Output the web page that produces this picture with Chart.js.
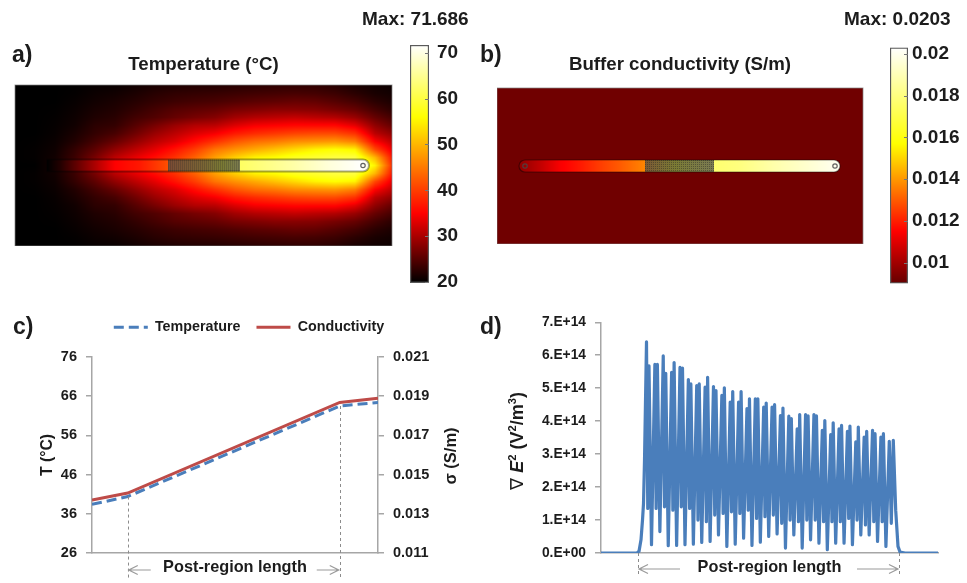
<!DOCTYPE html>
<html>
<head>
<meta charset="utf-8">
<title>Temperature, conductivity and field gradient</title>
<script src="https://cdn.jsdelivr.net/npm/chart.js@4"></script>
<style>
  html,body{margin:0;padding:0;background:#fff;width:967px;height:583px;overflow:hidden}
  body{filter:blur(.35px)}
  canvas{position:absolute;display:block}
  .t{position:absolute;font-family:"Liberation Sans",Arial,sans-serif;font-weight:bold;color:#1c1c1c;white-space:nowrap;transform:translateY(-50%);line-height:1}
  .r{transform:translate(-50%,-50%) rotate(-90deg)}
  .r sup{font-size:.62em;line-height:0}
  .r i{font-style:italic}
  .nab{font-family:"DejaVu Sans",sans-serif;font-weight:normal}
</style>
</head>
<body>
<canvas id="heatA" width="410" height="198" style="left:0;top:48px"></canvas>
<canvas id="barA" width="75" height="288" style="left:405px;top:20px"></canvas>
<canvas id="heatB" width="408" height="196" style="left:497px;top:48px"></canvas>
<canvas id="barB" width="77" height="287" style="left:885px;top:22px"></canvas>
<canvas id="lineC" width="498" height="279" style="left:0;top:304px"></canvas>
<canvas id="lineD" width="477" height="278" style="left:490px;top:305px"></canvas>

<div class="t" style="left:362px;top:18px;font-size:19px">Max: 71.686</div>
<div class="t" style="left:844px;top:18px;font-size:19px">Max: 0.0203</div>
<div class="t" style="left:12px;top:54px;font-size:23px">a)</div>
<div class="t" style="left:480px;top:54px;font-size:23px">b)</div>
<div class="t" style="left:13px;top:326px;font-size:23px">c)</div>
<div class="t" style="left:480px;top:326px;font-size:23px">d)</div>
<div class="t r" style="left:450px;top:456px;font-size:16.5px">σ (S/m)</div>
<div class="t r" style="left:517px;top:441px;font-size:18px"><span class="nab">∇</span> <i>E</i><sup>2</sup> (V<sup>2</sup>/m<sup>3</sup>)</div>

<script>
/* ---------- panel a: temperature field ---------- */
const tempFieldX = [0,20,40,60,80,100,120,140,160,180,200,220,240,260,280,300,320,340,360,380];
const tempFieldD = [0,8,16,24,32,40,48,56,64,72,80];
const tempRow0  = [20,20,21.2,24,28,32,35,38,42,48,53,56,59,60,61,62,62,63,55,36];
const tempRow1  = [20,20.2,21,23.5,27,31,33.5,36,39,43,48,52,55,56,58,59,60,60,50,34.5];
const tempRow2  = [20,20.2,20.8,23,25.5,28.5,31,33.5,36.5,40,44.5,47,49,51,53,55,56,55,41,32.5];
const tempRow3  = [20,20.1,20.6,22,24,26,28.5,31,33,36,39,42,44,45,46.5,47,47.5,45.5,35,30.5];
const tempRow4  = [20,20,20.4,21.5,23,24.2,26.5,29,31,33,34.5,37,38.5,39.5,40.5,41,41,39,31,28];
const tempRow5  = [20,20,20.3,21,22.5,23,25,27,29,30.5,31,33,34.5,35,35.5,35.5,35.5,33.5,28.5,25.5];
const tempRow6  = [20,20,20.2,20.8,21.8,22.4,23.8,24.8,26,27,27.8,29.5,30.5,31,31.5,31,30.5,29,26,23.8];
const tempRow7  = [20,20,20.1,20.6,21.4,21.9,22.9,24,25,25.5,26,27,27.5,28,28,27.8,27,26,24,22.3];
const tempRow8  = [20,20,20,20.4,21,21.5,22.2,23,23.6,24,24.3,24.8,25.3,25.6,26,25.8,25,24,22.5,21.5];
const tempRow9  = [20,20,20,20.2,20.7,21,21.6,22.3,22.8,23,23.2,23.5,23.8,24,24.2,24,23.5,22.5,21.5,21];
const tempRow10 = [20,20,20,20.1,20.4,20.5,21,21.5,21.8,22,22,22.3,22.5,22.7,22.8,22.8,22.3,21.5,21,20.7];
const tempRows = [tempRow0,tempRow1,tempRow2,tempRow3,tempRow4,tempRow5,tempRow6,tempRow7,tempRow8,tempRow9,tempRow10];
const tempChannelX = [32,45,67,100,125,150,190,225,275,315,345,354];
const tempChannelV = [20,22,27,35,37,41,50,62,66,69.5,71.5,70];
const tempStopValues = [20,35,56,71.686];
const tempStopColors = [[0,0,0],[255,0,0],[255,255,0],[255,255,255]];
const tempTicks = [20,30,40,50,60,70];

/* ---------- panel b: buffer conductivity ---------- */
const sigmaFieldX = [0,366];
const sigmaFieldD = [0,78];
const sigmaRows = [[0.0092,0.0092],[0.0092,0.0092]];
const sigmaChannelX = [22,43,63,83,103,123,148,183,217,243,273,303,338];
const sigmaChannelV = [0.0097,0.0105,0.0114,0.0119,0.0125,0.013,0.0137,0.016,0.0177,0.018,0.0187,0.0193,0.02];
const sigmaStopValues = [0.009,0.0115,0.0157,0.0203];
const sigmaStopColors = [[100,0,0],[255,0,0],[255,255,0],[255,255,255]];
const sigmaTicks = [0.01,0.012,0.014,0.016,0.018,0.02];

/* ---------- panel c ---------- */
const cPosition = [0,1,6.93,8];
const cTemperature = [38.4,40.4,63.5,64.4];
const cConductivity = [0.0137,0.01406,0.01868,0.0189];
const cPostStart = 1, cPostEnd = 6.93;

/* ---------- panel d (values in 1E+14 V²/m³) ---------- */
const dTickLabels = ['0.E+00','1.E+14','2.E+14','3.E+14','4.E+14','5.E+14','6.E+14','7.E+14'];
const dRiseX = [0,36,38,40,41.5,42.5,43.5];
const dRiseY = [0,0,0.05,0.4,1,1.5,2.8];
const dTopA = [6.41,5.72,5.98,5.48,5.63,5.26,5.08,5.03,5.05,4.78,4.58,4.58,4.38,4.68,4.43,4.43,4.17,4.15,3.77,4.2,4.2,3.72,3.59,3.77,3.69,3.37,3.52,3.72,3.52,3.39];
const dMid  = [1.35,1.35,1.4,1.3,1.4,1.35,1.0,0.95,1.15,1.2,1.25,1.2,1.3,1.05,1.1,1.15,0.9,1.0,0.95,1.0,1.0,0.95,0.95,0.95,1.05,1.0,0.85,0.95,0.95,0.9];
const dTopB = [5.68,5.72,5.45,5.78,5.61,5.13,5.13,5.33,4.93,5.01,4.9,4.9,4.68,4.68,4.55,4.5,4.4,4.08,4.2,4.16,4.16,4.02,3.95,3.87,3.85,3.82,3.69,3.62,3.62,3.42];
const dDip  = [0.25,0.65,0.22,0.23,0.25,0.27,0.32,0.35,0.55,0.2,0.27,0.45,0.23,0.33,0.5,0.58,0.15,0.55,0.15,0.4,0.3,0.1,0.3,0.3,0.25,0.55,0.55,0.35,0.2,0.15];
const dFallX = [294.7,297,299,304,337];
const dFallY = [1.3,0.2,0.03,0,0];
const dPostStart = 37, dPostEnd = 298;

/* ---------- helpers ---------- */
const FONT = '"Liberation Sans", Arial, sans-serif';
const GREY = '#a6a6a6';
const BLUE = '#4a7ebb';
const RED = '#be4b48';

function colorOf(v, values, colors){
  if (v <= values[0]) return colors[0];
  for (let i = 1; i < values.length; i++){
    if (v <= values[i]){
      const f = (v - values[i-1]) / (values[i] - values[i-1]);
      return colors[i].map((c,k) => colors[i-1][k] + (c - colors[i-1][k]) * f);
    }
  }
  return colors[colors.length-1];
}
function lookup(arr, v){
  let i = 0;
  while (i < arr.length - 2 && v > arr[i+1]) i++;
  const f = Math.min(1, Math.max(0, (v - arr[i]) / (arr[i+1] - arr[i])));
  return [i, f];
}
function interp(xs, vs, x){
  const [i,f] = lookup(xs, x);
  return vs[i] + (vs[i+1] - vs[i]) * f;
}

/* Paints the field cell values through the chart's own x / y scales. */
function heatPlugin(cfg){
  return {
    id: 'heat',
    beforeDatasetsDraw(chart){
      const {ctx, chartArea:a, scales:{x,y}} = chart;
      const w = Math.round(a.right - a.left), h = Math.round(a.bottom - a.top);
      const img = ctx.createImageData(w, h);
      for (let py = 0; py < h; py++){
        const d = Math.abs(y.getValueForPixel(a.top + py + 0.5));
        const [j,fj] = lookup(cfg.ds, d);
        for (let px = 0; px < w; px++){
          const [i,fi] = lookup(cfg.xs, x.getValueForPixel(a.left + px + 0.5));
          const r0 = cfg.rows[j], r1 = cfg.rows[j+1];
          const v0 = r0[i] + (r0[i+1]-r0[i])*fi, v1 = r1[i] + (r1[i+1]-r1[i])*fi;
          const c = colorOf(v0 + (v1-v0)*fj, cfg.stopValues, cfg.stopColors);
          const o = (py*w + px)*4;
          img.data[o]=c[0]; img.data[o+1]=c[1]; img.data[o+2]=c[2]; img.data[o+3]=255;
        }
      }
      ctx.putImageData(img, Math.round(a.left), Math.round(a.top));

      ctx.save();
      ctx.strokeStyle = 'rgba(130,130,130,.7)'; ctx.lineWidth = 1;
      ctx.strokeRect(a.left, a.top, w, h);

      const x0 = x.getPixelForValue(cfg.channel[0]), x1 = x.getPixelForValue(cfg.channel[1]);
      const yT = y.getPixelForValue(cfg.half), yB = y.getPixelForValue(-cfg.half);
      const path = () => { ctx.beginPath(); ctx.roundRect(x0, yT, x1-x0, yB-yT, cfg.radii); };
      ctx.save();
      path(); ctx.clip();
      for (let p = Math.floor(x0); p < x1; p++){
        const c = colorOf(interp(cfg.channelX, cfg.channelV, x.getValueForPixel(p+0.5)), cfg.stopValues, cfg.stopColors);
        ctx.fillStyle = `rgb(${c[0]|0},${c[1]|0},${c[2]|0})`;
        ctx.fillRect(p, yT, 1.5, yB-yT);
      }
      const m0 = x.getPixelForValue(cfg.mesh[0]), m1 = x.getPixelForValue(cfg.mesh[1]);
      ctx.fillStyle = 'rgba(72,72,72,.72)';
      ctx.fillRect(m0, yT, m1-m0, yB-yT);
      ctx.fillStyle = 'rgba(40,40,40,.45)';
      for (let p = m0; p < m1; p += 2) for (let q = yT; q < yB; q += 2) ctx.fillRect(p, q, 1, 1);
      ctx.restore();

      ctx.save();
      ctx.globalCompositeOperation = 'multiply';
      path();
      ctx.strokeStyle = cfg.outline; ctx.lineWidth = cfg.outlineWidth; ctx.stroke();
      ctx.restore();
      cfg.holes.forEach(h => {
        ctx.beginPath();
        ctx.arc(x.getPixelForValue(h), y.getPixelForValue(0), 2.2, 0, Math.PI*2);
        ctx.strokeStyle = 'rgba(70,70,70,.85)'; ctx.lineWidth = 1.2; ctx.stroke();
      });
      ctx.restore();
    }
  };
}

function heatChart(id, title, cfg, pad, titleBottom, xMax, yMax){
  return new Chart(document.getElementById(id), {
    type: 'scatter',
    data: { datasets: [{ data: cfg.xs.map(v => ({x:v, y:0})), pointRadius: 0 }] },
    options: {
      responsive: false, animation: false, events: [],
      layout: { padding: pad },
      plugins: {
        legend: { display: false }, tooltip: { enabled: false },
        title: { display: true, text: title, color: '#1c1c1c',
                 font: { family: FONT, size: 18.7, weight: 'bold', lineHeight: 23/18.7 },
                 padding: { top: 5, bottom: titleBottom } }
      },
      scales: {
        x: { type: 'linear', display: false, min: 0, max: xMax },
        y: { type: 'linear', display: false, min: -yMax, max: yMax }
      }
    },
    plugins: [heatPlugin(cfg)]
  });
}

function colorBar(id, ticks, lo, hi, stopValues, stopColors, fmt, leftPad, labelPad, axisWidth, padTop, padBottom){
  const ticksPlugin = {
    id: 'barTicks',
    afterDatasetsDraw(chart){
      const {ctx, chartArea:a, scales:{y}} = chart;
      ctx.save(); ctx.strokeStyle = '#777'; ctx.lineWidth = 1;
      ticks.forEach(t => {
        const p = Math.round(y.getPixelForValue(t)) + 0.5;
        ctx.beginPath(); ctx.moveTo(a.right - 4, p); ctx.lineTo(a.right, p); ctx.stroke();
      });
      ctx.restore();
    }
  };
  return new Chart(document.getElementById(id), {
    type: 'bar',
    data: { labels: [''], datasets: [{
      data: [[lo, hi]],
      barPercentage: 1, categoryPercentage: 1,
      borderColor: '#5a5a5a', borderWidth: 1.5, borderSkipped: false,
      backgroundColor(c){
        const {chart} = c, s = chart.scales.y;
        if (!chart.chartArea || !s) return '#888';
        const g = chart.ctx.createLinearGradient(0, s.getPixelForValue(lo), 0, s.getPixelForValue(hi));
        stopValues.forEach((v,i) => {
          const k = Math.min(1, Math.max(0, (v - lo) / (hi - lo)));
          g.addColorStop(k, `rgb(${stopColors[i].join(',')})`);
        });
        return g;
      }
    }]},
    options: {
      responsive: false, animation: false, events: [],
      layout: { padding: { left: leftPad, top: padTop, bottom: padBottom, right: 0 } },
      plugins: { legend: { display: false }, tooltip: { enabled: false } },
      scales: {
        x: { display: false },
        y: {
          position: 'right', min: lo, max: hi,
          afterFit(s){ s.width = axisWidth; },
          afterBuildTicks(s){ s.ticks = ticks.map(v => ({ value: v })); },
          border: { display: false },
          grid: { display: false, drawTicks: false },
          ticks: { padding: labelPad, color: '#1c1c1c', autoSkip: false,
                   font: { family: FONT, size: 19, weight: 'bold' }, callback: fmt }
        }
      }
    },
    plugins: [ticksPlugin]
  });
}

/* Dashed guides and the grey double arrow of the "Post-region length" label. */
function postRegionPlugin(o){
  return {
    id: 'postRegion',
    afterDraw(chart){
      const {ctx, chartArea:a, scales:{x}} = chart;
      const x0 = x.getPixelForValue(o.start), x1 = x.getPixelForValue(o.end);
      ctx.save();
      ctx.strokeStyle = '#8c8c8c'; ctx.lineWidth = 1; ctx.setLineDash([3,3]);
      [[x0,o.top0],[x1,o.top1]].forEach(([px,val]) => {
        const top = val == null ? a.bottom : chart.scales.y.getPixelForValue(val);
        ctx.beginPath(); ctx.moveTo(Math.round(px)+.5, top); ctx.lineTo(Math.round(px)+.5, a.bottom + o.down); ctx.stroke();
      });
      ctx.setLineDash([]); ctx.strokeStyle = '#9a9a9a'; ctx.lineWidth = 1.2;
      const ay = a.bottom + o.arrowY;
      const arrow = (tip, tail, dir) => {
        ctx.beginPath(); ctx.moveTo(tail, ay); ctx.lineTo(tip, ay);
        ctx.moveTo(tip + dir*9, ay - 4.5); ctx.lineTo(tip, ay); ctx.lineTo(tip + dir*9, ay + 4.5);
        ctx.stroke();
      };
      arrow(x0 + 1, x0 + o.len, 1);
      arrow(x1 - 1, x1 - o.len, -1);
      ctx.restore();
    }
  };
}

/* ---------- panels a, b ---------- */
heatChart('heatA', 'Temperature (°C)', {
  xs: tempFieldX, ds: tempFieldD, rows: tempRows,
  stopValues: tempStopValues, stopColors: tempStopColors,
  channelX: tempChannelX, channelV: tempChannelV,
  channel: [32,354], half: 6, mesh: [153,225], radii: [0,6,6,0], holes: [348],
  outline: '#a4a4a4', outlineWidth: 2
}, { left: 15, right: 18 }, 9, 377, 80.5);

heatChart('heatB', 'Buffer conductivity (S/m)', {
  xs: sigmaFieldX, ds: sigmaFieldD, rows: sigmaRows,
  stopValues: sigmaStopValues, stopColors: sigmaStopColors,
  channelX: sigmaChannelX, channelV: sigmaChannelV,
  channel: [22,343], half: 6, mesh: [148,217], radii: 6, holes: [28,338],
  outline: '#8c8c8c', outlineWidth: 1.2
}, { left: 0, right: 42 }, 12, 366, 78);

colorBar('barA', tempTicks, 19.8, 71.686, tempStopValues, tempStopColors, v => String(v), 5, 8, 51, 25, 25);
colorBar('barB', sigmaTicks, 0.009, 0.0203, sigmaStopValues, sigmaStopColors, v => String(v), 5, 4, 54, 25.5, 25.5);

/* ---------- panel c ---------- */
const legendHeightPlugin = {
  id: 'legendHeight',
  beforeLayout(chart){
    const lg = chart.legend;
    if (lg && !lg._patched){
      const fit = lg.fit;
      lg.fit = function(){ fit.call(this); this.height = 53; };
      lg._patched = true;
    }
  }
};
const cAxisBase = {
  border: { color: GREY, width: 1.5 },
  grid: { drawOnChartArea: false, color: GREY, lineWidth: 1.5, tickLength: 6 }
};
new Chart(document.getElementById('lineC'), {
  type: 'line',
  data: { datasets: [
    { label: 'Temperature', yAxisID: 'y', borderColor: BLUE, backgroundColor: BLUE, borderWidth: 3, borderDash: [10,5],
      pointRadius: 0, tension: 0, data: cPosition.map((x,i) => ({x, y: cTemperature[i]})) },
    { label: 'Conductivity', yAxisID: 'y1', borderColor: RED, backgroundColor: RED, borderWidth: 3,
      pointRadius: 0, tension: 0, data: cPosition.map((x,i) => ({x, y: cConductivity[i]})) }
  ]},
  options: {
    responsive: false, animation: false, events: [],
    plugins: {
      tooltip: { enabled: false },
      legend: { position: 'top', labels: {
        color: '#1c1c1c', padding: 16, usePointStyle: true, pointStyle: 'line', pointStyleWidth: 34,
        font: { family: FONT, size: 14.3, weight: 'bold' },
        generateLabels(chart){
          const items = Chart.defaults.plugins.legend.labels.generateLabels(chart);
          items.forEach((it,i) => {
            const d = chart.data.datasets[i];
            it.lineDash = d.borderDash || [];
            it.lineWidth = d.borderWidth;
            it.strokeStyle = d.borderColor;
          });
          return items;
        } } }
    },
    scales: {
      x: { type: 'linear', min: 0, max: 8,
        afterFit(s){ s.height = 30; },
        border: { color: GREY, width: 1.5 }, grid: { display: false },
        ticks: { display: false },
        title: { display: true, text: 'Post-region length', color: '#1c1c1c',
                 font: { family: FONT, size: 16.3, weight: 'bold', lineHeight: 1.15 }, padding: { top: 0, bottom: 6 } } },
      y: { ...cAxisBase, position: 'left', min: 26, max: 76,
        afterFit(s){ s.width = 92; },
        ticks: { stepSize: 10, padding: 9, color: '#1c1c1c', font: { family: FONT, size: 14.5, weight: 'bold' } },
        title: { display: true, text: 'T (°C)', color: '#1c1c1c',
                 font: { family: FONT, size: 15.7, weight: 'bold', lineHeight: 1.2 }, padding: { top: 38, bottom: 0 } } },
      y1: { ...cAxisBase, position: 'right', min: 0.011, max: 0.021,
        afterFit(s){ s.width = 120; },
        ticks: { stepSize: 0.002, padding: 9, color: '#1c1c1c', font: { family: FONT, size: 14.5, weight: 'bold' },
                 callback: v => v.toFixed(3) } }
    }
  },
  plugins: [legendHeightPlugin, postRegionPlugin({ start: cPostStart, end: cPostEnd, top0: 40.4, top1: 63.5, down: 25, arrowY: 17, len: 23 })]
});

/* ---------- panel d ---------- */
const dPeriod = 8.372, dFirst = 45.5;
const dPoints = dRiseX.map((x,i) => ({x, y: dRiseY[i]}));
dTopA.forEach((v,i) => {
  const base = dFirst + i*dPeriod;
  const last = i === dTopA.length - 1;
  dPoints.push({x: base, y: v});
  dPoints.push({x: base + (last ? 2 : 1.25), y: dMid[i]});
  dPoints.push({x: base + (last ? 4 : 2.5), y: dTopB[i]});
  if (!last) dPoints.push({x: base + 5, y: dDip[i]});
});
dFallX.forEach((x,i) => dPoints.push({x, y: dFallY[i]}));

new Chart(document.getElementById('lineD'), {
  type: 'line',
  data: { datasets: [{ label: '∇E²', borderColor: BLUE, backgroundColor: BLUE, borderWidth: 3.2,
    borderJoinStyle: 'round', pointRadius: 0, tension: 0, data: dPoints }] },
  options: {
    responsive: false, animation: false, events: [], parsing: false,
    layout: { padding: { top: 17, right: 29 } },
    plugins: { legend: { display: false }, tooltip: { enabled: false } },
    scales: {
      x: { type: 'linear', min: 0, max: 337,
        afterFit(s){ s.height = 30; },
        border: { color: GREY, width: 1.5 }, grid: { display: false }, ticks: { display: false },
        title: { display: true, text: 'Post-region length', color: '#1c1c1c',
                 font: { family: FONT, size: 16.3, weight: 'bold', lineHeight: 1.15 }, padding: { top: 0, bottom: 6 } } },
      y: { min: 0, max: 7,
        afterFit(s){ s.width = 111; },
        border: { color: GREY, width: 1.5 },
        grid: { drawOnChartArea: false, color: GREY, lineWidth: 1.5, tickLength: 6 },
        ticks: { stepSize: 1, padding: 9, color: '#1c1c1c', font: { family: FONT, size: 13.8, weight: 'bold' },
                 callback: v => dTickLabels[v] } }
    }
  },
  plugins: [postRegionPlugin({ start: dPostStart, end: dPostEnd, down: 24, arrowY: 16, len: 42 })]
});
</script>
</body>
</html>
